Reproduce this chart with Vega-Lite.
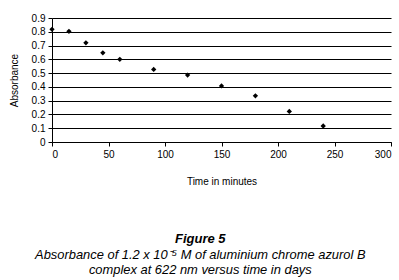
{
  "$schema": "https://vega.github.io/schema/vega-lite/v6.json",
  "width": 339,
  "height": 124,
  "padding": {"left": 9, "top": 13, "right": 5, "bottom": 5},
  "background": "white",
  "data": {"values": [
    {"time": 0, "absorbance": 0.818},
    {"time": 15, "absorbance": 0.803},
    {"time": 30, "absorbance": 0.72},
    {"time": 45, "absorbance": 0.647},
    {"time": 60, "absorbance": 0.6},
    {"time": 90, "absorbance": 0.527},
    {"time": 120, "absorbance": 0.486},
    {"time": 150, "absorbance": 0.407},
    {"time": 180, "absorbance": 0.335},
    {"time": 210, "absorbance": 0.222},
    {"time": 240, "absorbance": 0.116}
  ]},
  "title": {
    "text": "Figure 5",
    "subtitle": ["Absorbance of 1.2 x 10⁻⁵ M of aluminium chrome azurol B", "complex at 622 nm versus time in days"],
    "orient": "bottom",
    "anchor": "middle",
    "frame": "bounds",
    "offset": 47,
    "font": "Liberation Sans",
    "fontSize": 13,
    "fontWeight": "bold",
    "fontStyle": "italic",
    "color": "black",
    "subtitleFont": "Liberation Sans",
    "subtitleFontSize": 12.9,
    "subtitleFontStyle": "italic",
    "subtitleColor": "black",
    "subtitlePadding": 3,
    "subtitleLineHeight": 15
  },
  "mark": {"type": "point", "shape": "diamond", "filled": true, "color": "black", "size": 28, "opacity": 1},
  "encoding": {
    "x": {
      "field": "time", "type": "quantitative",
      "scale": {"domain": [0, 300], "nice": false},
      "axis": {
        "title": "Time in minutes",
        "values": [0, 50, 100, 150, 200, 250, 300],
        "grid": false,
        "domainColor": "black",
        "tickColor": "black",
        "tickSize": 4,
        "labelFont": "Liberation Sans",
        "labelFontSize": 10,
        "labelColor": "black",
        "labelPadding": 3,
        "titleFont": "Liberation Sans",
        "titleFontSize": 10,
        "titleFontWeight": "normal",
        "titleColor": "black",
        "titlePadding": 17
      }
    },
    "y": {
      "field": "absorbance", "type": "quantitative",
      "scale": {"domain": [0, 0.9], "nice": false},
      "axis": {
        "title": "Absorbance",
        "values": [0, 0.1, 0.2, 0.3, 0.4, 0.5, 0.6, 0.7, 0.8, 0.9],
        "format": "~g",
        "grid": true,
        "gridColor": "black",
        "gridOpacity": 1,
        "gridWidth": 1,
        "domainColor": "black",
        "tickColor": "black",
        "tickSize": 4,
        "labelFont": "Liberation Sans",
        "labelFontSize": 10,
        "labelColor": "black",
        "labelPadding": 3,
        "titleFont": "Liberation Sans",
        "titleFontSize": 10,
        "titleFontWeight": "normal",
        "titleColor": "black",
        "titlePadding": 12
      }
    }
  },
  "config": {"view": {"stroke": null}}
}
